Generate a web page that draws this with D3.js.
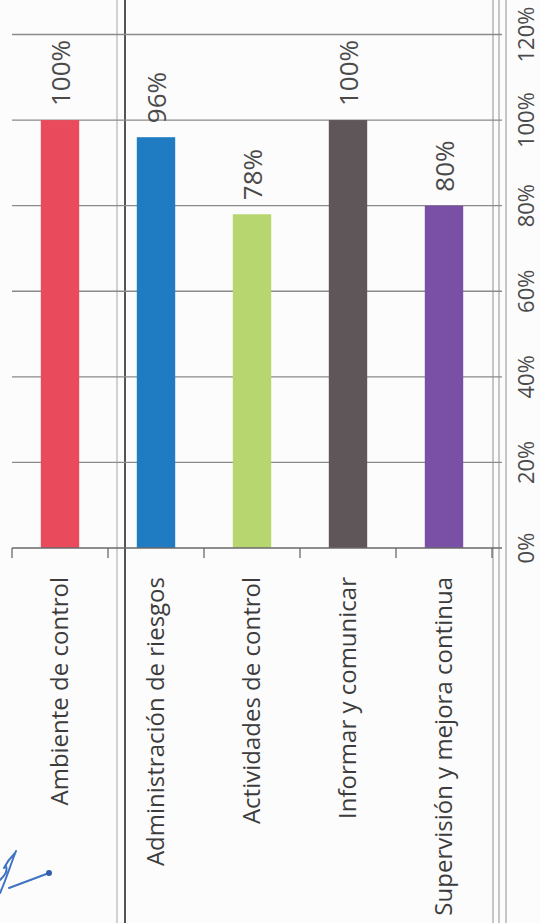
<!DOCTYPE html>
<html lang="es">
<head>
  <meta charset="UTF-8">
  <title>Componentes de control interno</title>
  <script src="https://d3js.org/d3.v7.min.js"></script>
  <style>
    body { margin: 0; background: #fcfcfc; }
    svg { display: block; }
    text { font-family: "Open Sans", "Noto Sans", sans-serif; }
  </style>
</head>
<body>
<script>
  // datos
  var categories = ['Ambiente de control', 'Administración de riesgos', 'Actividades de control',
                    'Informar y comunicar', 'Supervisión y mejora continua']
  var values = [1.00, 0.96, 0.78, 1.00, 0.80]
  var colors = ['#e94a5c', '#1f7cc3', '#b7d66f', '#5e5659', '#7a50a6']
  var ticks = [0, 0.2, 0.4, 0.6, 0.8, 1.0, 1.2]

  var width = 540
  var height = 923
  var svg = d3.select('body').append('svg').attr('width', width).attr('height', height)

  var x = d3.scaleBand().domain(categories).range([12, 492]).paddingInner(0.6).paddingOuter(0.3)
  var y = d3.scaleLinear().domain([0, 1.2]).range([548, 34.5])
  var pct = d3.format('.0%')

  // lineas de la tabla escaneada
  svg.append('line').attr('x1', 117).attr('x2', 117).attr('y1', 0).attr('y2', height)
     .attr('stroke', '#b5b5b5').attr('stroke-width', 1.2)
  svg.append('line').attr('x1', 125).attr('x2', 125).attr('y1', 0).attr('y2', height)
     .attr('stroke', '#2a2a2a').attr('stroke-width', 1.6)
  ;[493, 499, 506].forEach(function (lx) {
    svg.append('line').attr('x1', lx).attr('x2', lx).attr('y1', 0).attr('y2', height)
       .attr('stroke', '#b8b8b8').attr('stroke-width', 1.6)
  })

  // lineas de cuadricula
  svg.append('g').selectAll('line').data(ticks.slice(1)).join('line')
     .attr('x1', 12).attr('x2', 502)
     .attr('y1', function (d) { return y(d) }).attr('y2', function (d) { return y(d) })
     .attr('stroke', '#8a8a8a').attr('stroke-width', 1.3)

  // barras
  svg.append('g').selectAll('rect').data(values).join('rect')
     .attr('x', function (d, i) { return x(categories[i]) })
     .attr('width', x.bandwidth())
     .attr('y', function (d) { return y(d) })
     .attr('height', function (d) { return y(0) - y(d) })
     .attr('fill', function (d, i) { return colors[i] })

  // eje de categorias (base)
  var edges = categories.map(function (c) { return x(c) - x.step() * x.paddingInner() / 2 })
  edges[0] = 12
  edges.push(492)
  svg.append('line').attr('x1', 12).attr('x2', 502).attr('y1', y(0)).attr('y2', y(0))
     .attr('stroke', '#6a6a6a').attr('stroke-width', 1.5)
  svg.append('g').selectAll('line').data(edges).join('line')
     .attr('x1', function (d) { return d }).attr('x2', function (d) { return d })
     .attr('y1', y(0)).attr('y2', y(0) + 10)
     .attr('stroke', '#6a6a6a').attr('stroke-width', 1.3)

  // etiquetas de categoria (giradas)
  svg.append('g').selectAll('text').data(categories).join('text')
     .attr('transform', function (d) {
       return 'translate(' + (x(d) + x.bandwidth() / 2 + 8) + ',' + (y(0) + 29) + ') rotate(-90)'
     })
     .attr('text-anchor', 'end')
     .attr('font-size', 24).attr('fill', '#3c3c3c')
     .text(function (d) { return d })

  // etiquetas de valor
  svg.append('g').selectAll('text').data(values).join('text')
     .attr('transform', function (d, i) {
       return 'translate(' + (x(categories[i]) + x.bandwidth() / 2 + 10) + ',' + (y(d) - 14) + ') rotate(-90)'
     })
     .attr('text-anchor', 'start')
     .attr('font-size', 26).attr('fill', '#4a4a4a')
     .text(function (d) { return pct(d) })

  // eje de valores (a la derecha)
  svg.append('g').selectAll('text').data(ticks).join('text')
     .attr('transform', function (d) { return 'translate(534,' + y(d) + ') rotate(-90)' })
     .attr('text-anchor', 'middle')
     .attr('font-size', 22).attr('fill', '#4a4a4a')
     .text(function (d) { return pct(d) })

  // rubrica en tinta azul
  svg.append('path')
     .attr('d', 'M0,893 C6,880 10,866 16,851 M4,868 C8,860 12,856 15,853 M0,880 C4,876 8,872 6,866 M9,888 L49,873')
     .attr('fill', 'none').attr('stroke', '#3f74c4').attr('stroke-width', 2).attr('stroke-linecap', 'round')
  svg.append('circle').attr('cx', 49).attr('cy', 873).attr('r', 3).attr('fill', '#2f5fae')
</script>
</body>
</html>
